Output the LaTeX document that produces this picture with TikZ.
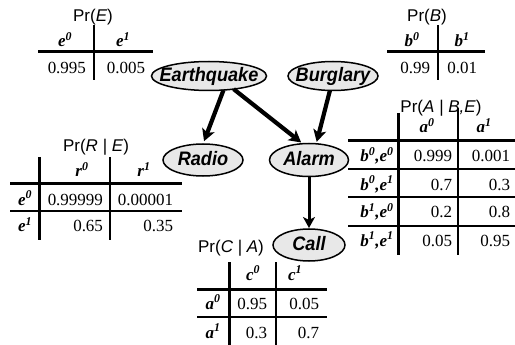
\documentclass[tikz,border=0pt]{standalone}
\usepackage{fontspec}
\setmainfont{Liberation Serif}
\newfontfamily\labelfont{Liberation Sans}
\usetikzlibrary{arrows.meta,shapes.geometric}

\definecolor{nodegray}{HTML}{E8E8E8}
% italic variable with a raised value index
\newcommand\hv[2]{\textbf{\textit{#1\textsuperscript{#2}}}}
% two indexed variables, e.g. b^0,e^1
\newcommand\hvv[4]{\textbf{\textit{#1\textsuperscript{#2},#3\textsuperscript{#4}}}}
% variable name inside its ellipse, slightly narrowed
\newcommand\varname[1]{\makebox[0pt]{\scalebox{0.93}[1]{#1}}}

\begin{document}
\begin{tikzpicture}[x=1pt,y=-1pt,
  every node/.style={inner sep=0pt,outer sep=0pt},
  cell/.style={font=\fontsize{17}{20}\selectfont,anchor=base east},
  head/.style={font=\fontsize{17}{20}\selectfont,anchor=base},
  title/.style={font=\labelfont\fontsize{17}{20}\selectfont},
  heavy/.style={line width=3pt},
  light/.style={line width=1.2pt},
  var/.style={ellipse,draw,line width=1.5pt,fill=nodegray,
    font=\labelfont\bfseries\itshape\fontsize{19.5}{22}\selectfont,
    text height=11pt,text depth=0pt},
  edge/.style={line width=4.2pt,-{Stealth[length=12pt,width=13pt,inset=3pt]}},
]
\useasboundingbox (0,0) rectangle (515,345);

% ---- network variables ----
\node[var,minimum width=115pt,minimum height=29pt] (eq)    at (209,76)  {\varname{Earthquake}};
\node[var,minimum width=90pt, minimum height=29pt] (burg)  at (333,76)  {\varname{Burglary}};
\node[var,minimum width=80pt, minimum height=32pt] (radio) at (203,160) {\varname{Radio}};
\node[var,minimum width=79pt, minimum height=33pt] (alarm) at (309,160) {\varname{Alarm}};
\node[var,minimum width=72pt, minimum height=32pt] (call)  at (309,245) {\varname{Call}};

% ---- dependencies ----
\draw[edge,shorten >=3pt] (eq.-44) -- (radio.north);
\draw[edge,shorten >=2pt] (eq.-28) -- (alarm.111);
\draw[edge,shorten >=2pt] (burg.-102) -- (alarm.66);
\draw[edge,line width=3pt,-{Stealth[length=11pt,width=12pt,inset=3pt]},shorten >=1pt] (alarm) -- (call);

% ---- Pr(E) ----
\node[title] (pe) at (93,17) {Pr(\textit{E})};
\draw[heavy] (38,52) -- (153,52);
\draw[light] (94,25) -- (94,80);
\node[head] (pe-h0) at (65,47) {\hv{e}{0}};
\node[head] (pe-h1) at (123,47) {\hv{e}{1}};
\node[cell] (pe-v0) at (86,74) {0.995};
\node[cell] (pe-v1) at (145,74) {0.005};

% ---- Pr(B) ----
\node[title] (pb) at (427,17) {Pr(\textit{B})};
\draw[heavy] (387,52) -- (485,52);
\draw[light] (438,25) -- (438,80);
\node[head] (pb-h0) at (412,47) {\hv{b}{0}};
\node[head] (pb-h1) at (462,47) {\hv{b}{1}};
\node[cell] (pb-v0) at (430,74) {0.99};
\node[cell] (pb-v1) at (477,74) {0.01};

% ---- Pr(R | E) ----
\node[title] (pr) at (96,147) {Pr(\textit{R | E})};
\draw[heavy] (39,157) -- (39,240);
\draw[light] (110,157) -- (110,240);
\draw[heavy] (10,184) -- (182,184);
\draw[light] (10,211) -- (182,211);
\node[head] (pr-h0) at (82,177) {\hv{r}{0}};
\node[head] (pr-h1) at (144,177) {\hv{r}{1}};
\node[head] (pr-r0) at (25,205) {\hv{e}{0}};
\node[head] (pr-r1) at (25,232) {\hv{e}{1}};
\node[cell] (pr-00) at (103,205) {0.99999};
\node[cell] (pr-01) at (173,205) {0.00001};
\node[cell] (pr-10) at (103,232) {0.65};
\node[cell] (pr-11) at (173,232) {0.35};

% ---- Pr(A | B,E) ----
\draw[heavy] (398,113) -- (398,255);
\draw[light] (458,108) -- (458,255);
\draw[heavy] (348,141) -- (515,141);
\draw[light] (348,169) -- (515,169);
\draw[light] (348,197) -- (515,197);
\draw[light] (348,226) -- (515,226);
\node[title] (pa) at (441,108) {Pr(\textit{A | B,E})};
\node[head] (pa-h0) at (427,133) {\hv{a}{0}};
\node[head] (pa-h1) at (484,133) {\hv{a}{1}};
\node[head] (pa-r0) at (377,162) {\hvv{b}{0}{e}{0}};
\node[head] (pa-r1) at (377,190) {\hvv{b}{0}{e}{1}};
\node[head] (pa-r2) at (377,218) {\hvv{b}{1}{e}{0}};
\node[head] (pa-r3) at (377,246) {\hvv{b}{1}{e}{1}};
\node[cell] (pa-00) at (452,162) {0.999};
\node[cell] (pa-01) at (510,162) {0.001};
\node[cell] (pa-10) at (452,190) {0.7};
\node[cell] (pa-11) at (510,190) {0.3};
\node[cell] (pa-20) at (452,218) {0.2};
\node[cell] (pa-21) at (510,218) {0.8};
\node[cell] (pa-30) at (452,246) {0.05};
\node[cell] (pa-31) at (510,246) {0.95};

% ---- Pr(C | A) ----
\node[title] (pc) at (231,248) {Pr(\textit{C | A})};
\draw[heavy] (229,262) -- (229,345);
\draw[light] (276,262) -- (276,345);
\draw[heavy] (197,289) -- (327,289);
\draw[light] (197,317) -- (327,317);
\node[head] (pc-h0) at (253,280) {\hv{c}{0}};
\node[head] (pc-h1) at (295,280) {\hv{c}{1}};
\node[head] (pc-r0) at (213,309) {\hv{a}{0}};
\node[head] (pc-r1) at (213,338) {\hv{a}{1}};
\node[cell] (pc-00) at (267,309) {0.95};
\node[cell] (pc-01) at (319,309) {0.05};
\node[cell] (pc-10) at (267,338) {0.3};
\node[cell] (pc-11) at (319,338) {0.7};
\end{tikzpicture}
\end{document}
